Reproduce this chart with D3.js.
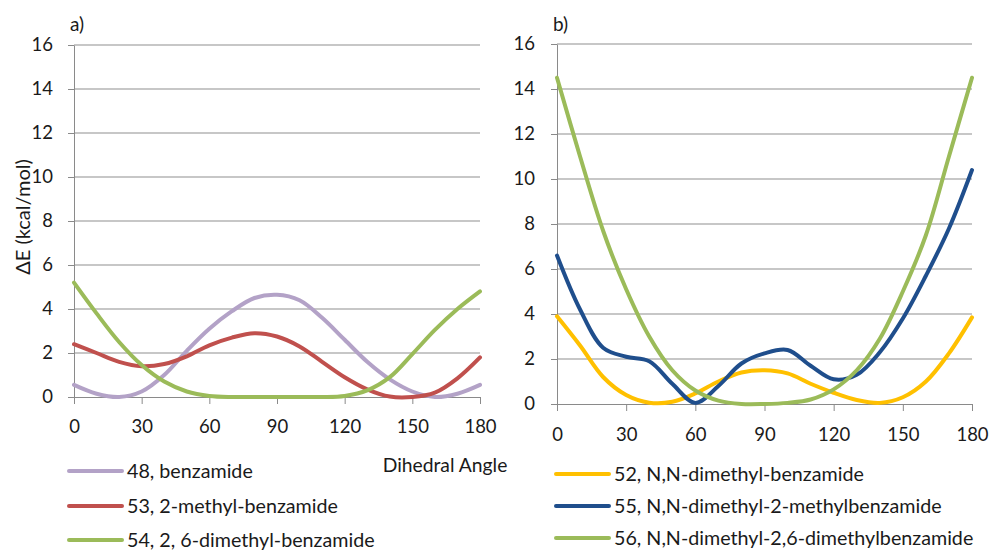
<!DOCTYPE html>
<html>
<head>
<meta charset="utf-8">
<script src="https://cdn.jsdelivr.net/npm/d3@7"></script>
<style>
    body { margin: 0; background: #fff; }
    svg { display: block; font-family: Lato, "Open Sans", sans-serif; }
    .axis text { font-size: 18.5px; fill: #1a1a1a; font-family: Lato, sans-serif; }
    .axis path, .axis line { stroke: #8a8a8a; }
</style>
</head>
<body>
<div id="chart"></div>
<script>
// data (dihedral angle in degrees, energy in kcal/mol)
const angles = [0, 10, 20, 30, 40, 50, 60, 70, 80, 90, 100, 110, 120, 130, 140, 150, 160, 170, 180];

const benzamide48 = [0.55, 0.15, 0, 0.25, 1.0, 2.1, 3.1, 3.9, 4.5, 4.65, 4.4, 3.6, 2.6, 1.6, 0.8, 0.25, 0, 0.15, 0.55];
const methyl53 = [2.4, 2.0, 1.6, 1.4, 1.5, 1.85, 2.35, 2.7, 2.9, 2.75, 2.3, 1.6, 0.9, 0.35, 0.02, 0, 0.2, 0.85, 1.8];
const dimethyl54 = [5.2, 3.8, 2.5, 1.45, 0.7, 0.25, 0.05, 0, 0, 0, 0, 0, 0.05, 0.3, 0.9, 1.95, 3.05, 4.0, 4.8];

const nnDimethyl52 = [3.9, 2.6, 1.2, 0.4, 0.06, 0.1, 0.47, 1.0, 1.4, 1.5, 1.36, 0.9, 0.5, 0.18, 0.05, 0.3, 1.0, 2.25, 3.85];
const nnMethyl55 = [6.6, 4.2, 2.5, 2.1, 1.9, 0.9, 0.05, 0.8, 1.8, 2.25, 2.4, 1.7, 1.1, 1.3, 2.3, 3.8, 5.7, 7.8, 10.4];
const nnDimethyl56 = [14.5, 11.0, 7.7, 5.1, 3.0, 1.5, 0.6, 0.15, 0, 0, 0.05, 0.2, 0.65, 1.5, 2.9, 5.0, 7.5, 11.0, 14.5];

const xTicks = [0, 30, 60, 90, 120, 150, 180];
const yTicks = [0, 2, 4, 6, 8, 10, 12, 14, 16];

const seriesLeft = [
    { "name": "48, benzamide", "values": benzamide48, "color": "#b3a2c7" },
    { "name": "53, 2-methyl-benzamide", "values": methyl53, "color": "#c0504d" },
    { "name": "54, 2, 6-dimethyl-benzamide", "values": dimethyl54, "color": "#9bbb59" }
];

const seriesRight = [
    { "name": "52, N,N-dimethyl-benzamide", "values": nnDimethyl52, "color": "#ffc000" },
    { "name": "55, N,N-dimethyl-2-methylbenzamide", "values": nnMethyl55, "color": "#1f4e8c" },
    { "name": "56, N,N-dimethyl-2,6-dimethylbenzamide", "values": nnDimethyl56, "color": "#9bbb59" }
];

const svg = d3.select("#chart")
    .append("svg")
    .attr("width", 990)
    .attr("height", 550);

function drawPanel(series, box) {
    var x = d3.scaleLinear()
        .domain([0, 180])
        .range([box.left, box.right]);

    var y = d3.scaleLinear()
        .domain([0, 16])
        .range([box.bottom, box.top]);

    var g = svg.append("g");

    // gridlines
    g.append("g")
        .selectAll("line")
        .data(yTicks.filter(function(d) { return d > 0; }))
        .enter()
        .append("line")
        .attr("x1", box.left)
        .attr("x2", box.right)
        .attr("y1", function(d) { return y(d); })
        .attr("y2", function(d) { return y(d); })
        .attr("stroke", "#8f8f8f")
        .attr("stroke-width", 1);

    // y axis
    g.append("g")
        .attr("class", "axis")
        .attr("transform", "translate(" + box.left + ",0)")
        .call(d3.axisLeft(y).tickValues(yTicks).tickSize(6).tickSizeOuter(0).tickPadding(box.yPad));

    // x axis
    g.append("g")
        .attr("class", "axis")
        .attr("transform", "translate(0," + box.bottom + ")")
        .call(d3.axisBottom(x).tickValues(xTicks).tickSize(7).tickSizeOuter(0).tickPadding(box.xPad));

    var line = d3.line()
        .x(function(d, i) { return x(angles[i]); })
        .y(function(d) { return y(d); })
        .curve(d3.curveCatmullRom.alpha(0.5));

    g.append("g")
        .selectAll("path")
        .data(series)
        .enter()
        .append("path")
        .attr("d", function(d) { return line(d.values); })
        .attr("fill", "none")
        .attr("stroke", function(d) { return d.color; })
        .attr("stroke-width", 4)
        .attr("stroke-linejoin", "round")
        .attr("stroke-linecap", "round");

    // panel letter
    g.append("text")
        .attr("x", box.left - 4)
        .attr("y", 31)
        .style("font-size", "19px")
        .attr("fill", "#1a1a1a")
        .text(box.label);

    // legend
    var legend = g.append("g")
        .selectAll("g")
        .data(series)
        .enter()
        .append("g")
        .attr("transform", function(d, i) {
            return "translate(" + box.legendX + "," + box.legendY[i] + ")";
        });

    legend.append("line")
        .attr("x1", 0)
        .attr("x2", 53)
        .attr("stroke", function(d) { return d.color; })
        .attr("stroke-width", 4)
        .attr("stroke-linecap", "round");

    legend.append("text")
        .attr("x", 58)
        .attr("dy", "0.35em")
        .style("font-size", "19.7px")
        .attr("fill", "#1a1a1a")
        .text(function(d) { return d.name; });
}

drawPanel(seriesLeft, {
    left: 74, right: 480, top: 45, bottom: 397,
    xPad: 16, yPad: 15, label: "a)",
    legendX: 69, legendY: [471, 506, 540]
});

drawPanel(seriesRight, {
    left: 557, right: 972, top: 44, bottom: 404,
    xPad: 17, yPad: 16, label: "b)",
    legendX: 556, legendY: [474, 506, 538]
});

// axis titles
svg.append("text")
    .attr("transform", "translate(23,217) rotate(-90)")
    .attr("dy", "0.35em")
    .style("text-anchor", "middle")
    .style("font-size", "20px")
    .attr("fill", "#1a1a1a")
    .text("ΔE (kcal/mol)");

svg.append("text")
    .attr("x", 445)
    .attr("y", 465)
    .attr("dy", "0.35em")
    .style("text-anchor", "middle")
    .style("font-size", "19.3px")
    .attr("fill", "#1a1a1a")
    .text("Dihedral Angle");
</script>
</body>
</html>
